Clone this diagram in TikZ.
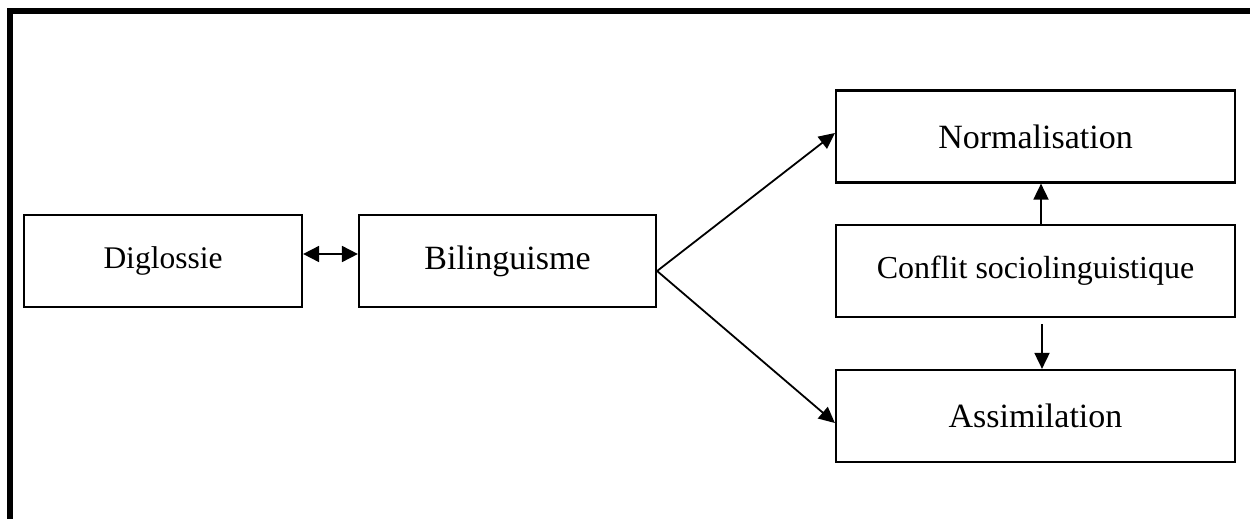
\documentclass[tikz,border=0pt]{standalone}
\usepackage{fontspec}
\setmainfont{Liberation Serif}
\usetikzlibrary{arrows.meta}
\begin{document}
\begin{tikzpicture}[x=1pt,y=-1pt,
  box/.style={draw,line width=2.2pt,inner sep=0pt,minimum height=92pt},
  arr/.style={line width=1.8pt,-{Triangle[length=16pt,width=15pt]}},
  darr/.style={line width=1.8pt,{Triangle[length=16pt,width=16pt]}-{Triangle[length=16pt,width=16pt]}}]
\useasboundingbox (0,0) rectangle (1250,519);
\draw[line width=5.5pt] (10,530) -- (10,11) -- (1260,11);
\node[box,minimum width=278pt,font=\fontsize{31.5}{36}\selectfont] (dig) at (163,261) {\raisebox{-4pt}{Diglossie}};
\node[box,minimum width=297pt,font=\fontsize{34}{40}\selectfont] (bil) at (507.5,261) {\raisebox{-4pt}{Bilinguisme}};
\node[box,minimum width=399pt,font=\fontsize{34}{40}\selectfont] (norm) at (1035.5,136.5) {Normalisation};
\node[box,minimum width=399pt,font=\fontsize{32}{38}\selectfont] (conf) at (1035.5,271) {\raisebox{-2pt}{Conflit sociolinguistique}};
\node[box,minimum width=399pt,font=\fontsize{34}{40}\selectfont] (assim) at (1035.5,416) {Assimilation};
\draw[darr] ([yshift=7pt]dig.east) -- ([yshift=7pt]bil.west);
\coordinate (fork) at ([yshift=-10pt]bil.east);
\draw[arr] (fork) -- ([yshift=3.5pt]norm.west);
\draw[arr] (fork) -- ([yshift=-7pt]assim.west);
\draw[arr] ([xshift=5.5pt]conf.north) -- ([xshift=5.5pt]norm.south);
\coordinate (cs) at ([xshift=6.5pt,yshift=-6pt]conf.south);
\draw[arr] (cs) -- ([xshift=6.5pt]assim.north);
\end{tikzpicture}
\end{document}
